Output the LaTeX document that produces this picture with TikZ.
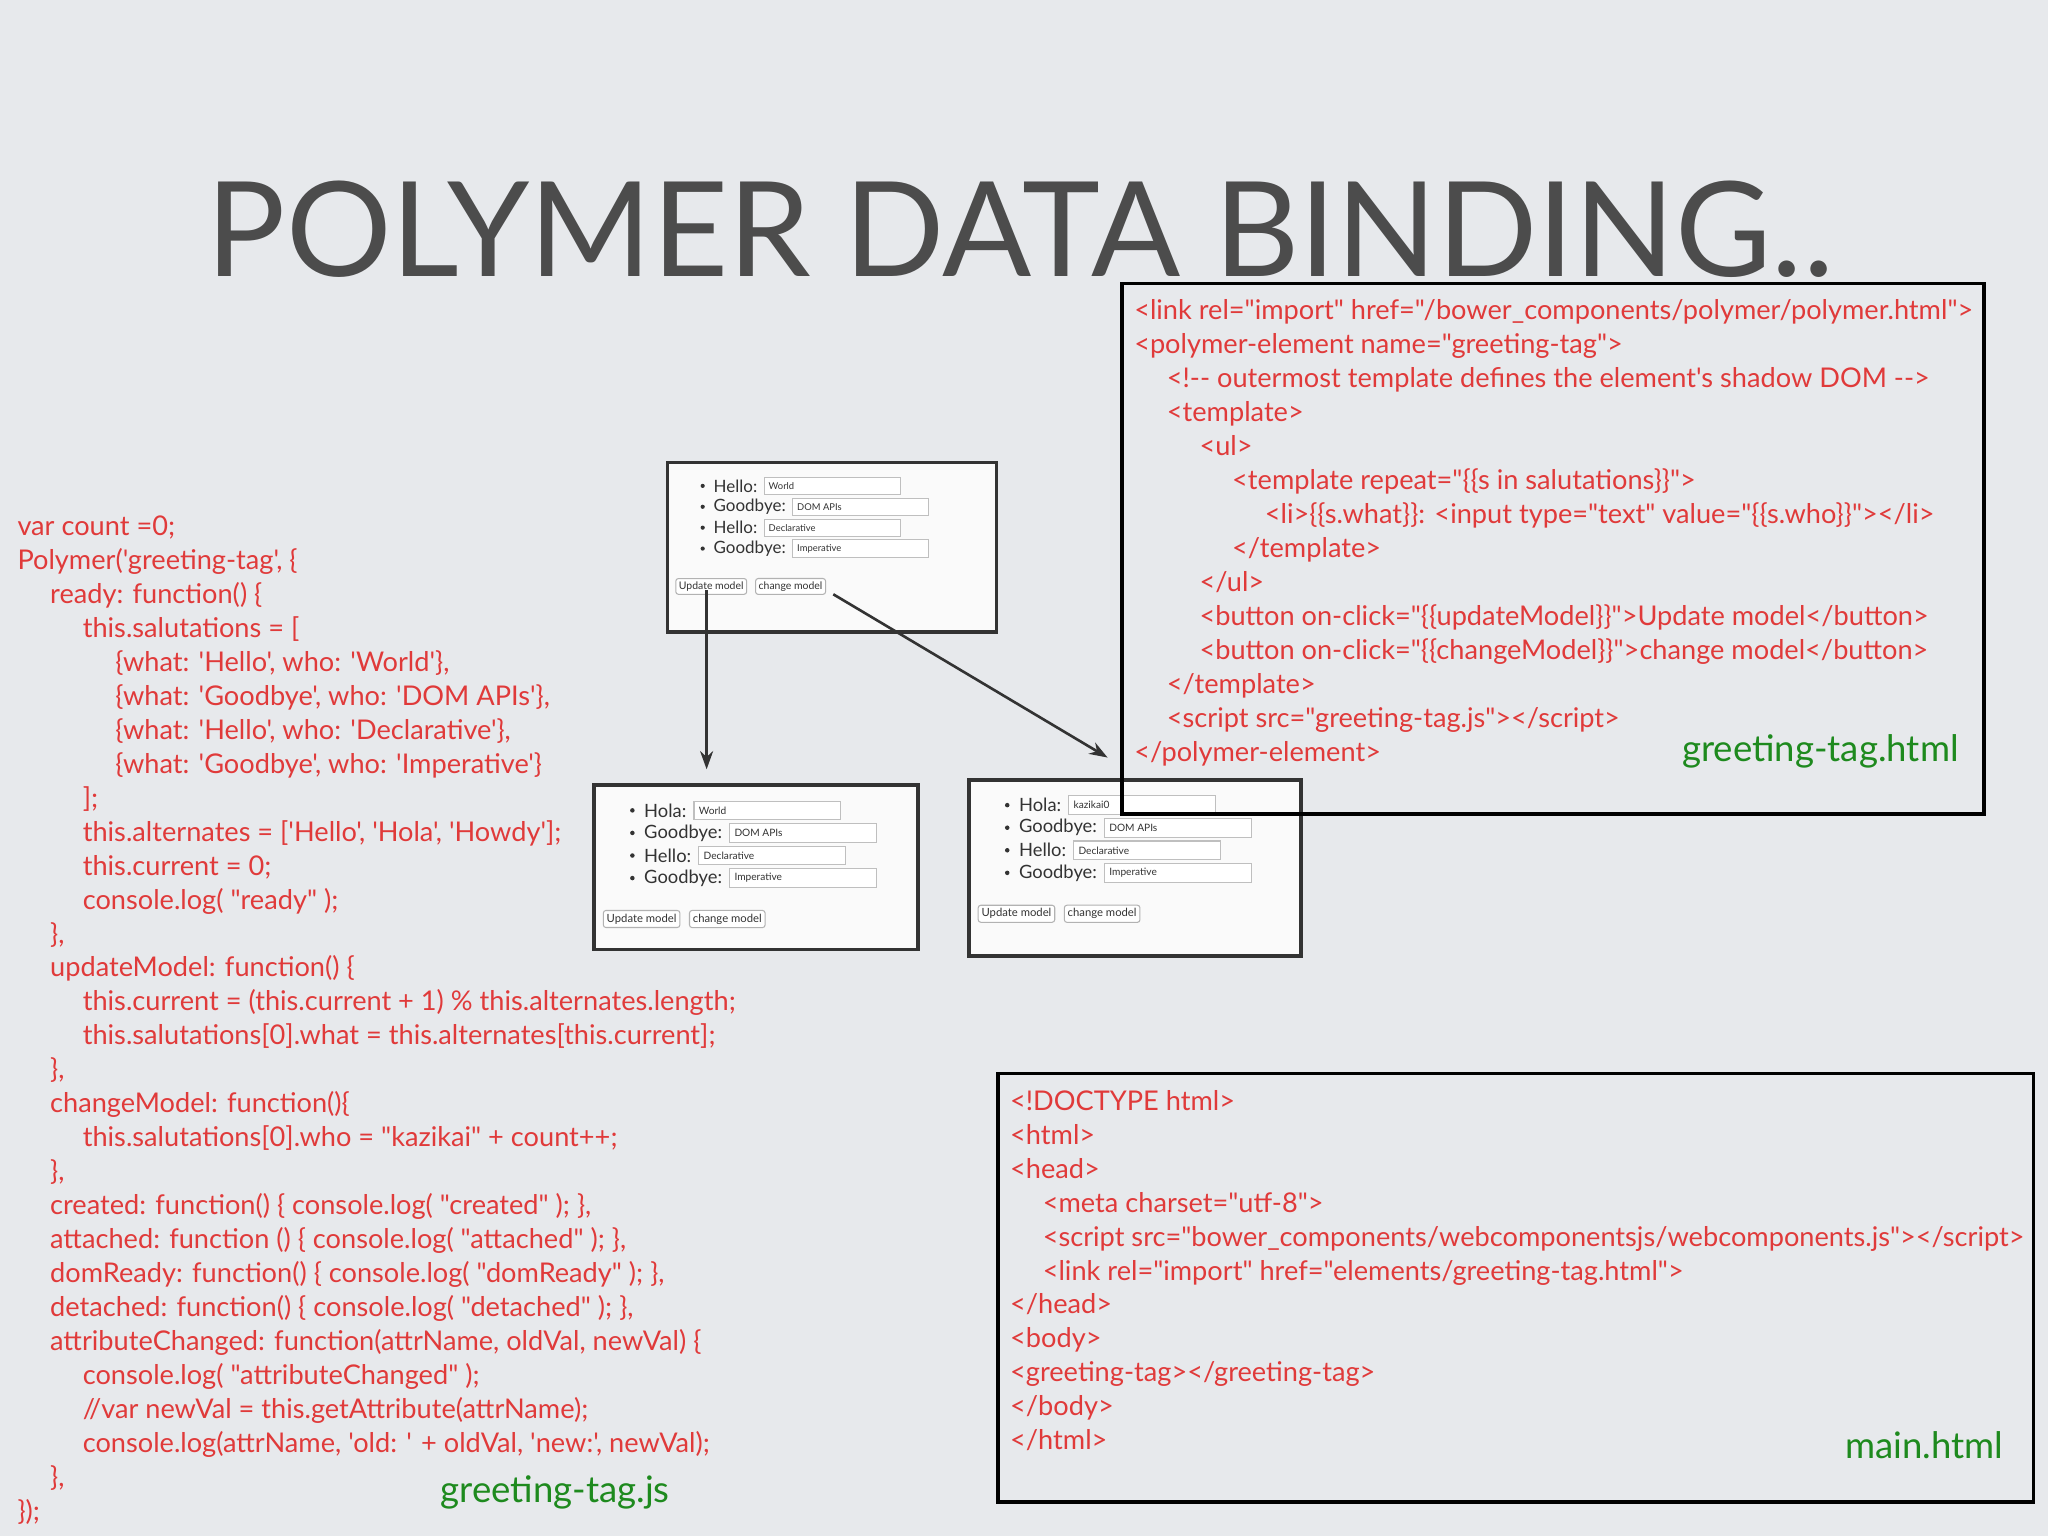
\documentclass[tikz,border=0pt]{standalone}
\usepackage{fontspec}
\newfontfamily\cf{Lato}
\usetikzlibrary{arrows.meta}
\definecolor{bg}{HTML}{E7E9EC}
\definecolor{cred}{HTML}{E03A3A}
\definecolor{cgreen}{HTML}{1E8A1E}
\definecolor{ink}{HTML}{333333}
\tikzset{
  code/.style={anchor=base west,inner sep=0pt,text=cred,font=\cf\fontsize{10.4}{12}\selectfont},
  fname/.style={anchor=base east,inner sep=0pt,text=cgreen,font=\cf\fontsize{14}{16}\selectfont},
  frame/.style={draw=black,line width=1.4pt},
  shotframe/.style={draw=ink,line width=1.4pt,fill=white!96!gray},
  lbl/.style={anchor=west,inner sep=0pt,text=ink,font=\cf\fontsize{6.5}{7}\selectfont},
  val/.style={anchor=west,inner sep=0pt,text=ink,font=\cf\fontsize{3.6}{4}\selectfont},
  btn/.style={draw=gray!60,rounded corners=1pt,fill=white,inner sep=1.2pt,text=ink,font=\cf\fontsize{4}{5}\selectfont},
  arr/.style={draw=ink,line width=1pt,-{Stealth[length=7pt,width=5pt]}}
}
\newcommand{\jl}[3]{\node[code] at (13+25*#1,410+26*#2) {#3};}
\newcommand{\hl}[3]{\node[code] at (868+25*#1,245+26*#2) {#3};}
\newcommand{\ml}[3]{\node[code] at (773+25*#1,850+26*#2) {#3};}
\newcommand{\shot}[7]{%
  \draw[shotframe] (#1,#2) rectangle ++(#3,#4);
  \begin{scope}[shift={(#1,#2)},scale=#5,transform shape]
    \foreach \i/\l/\v in {0/#6/#7,1/Goodbye:/DOM APIs,2/Hello:/Declarative,3/Goodbye:/Imperative}{
      \fill[ink] (27,18+16*\i) circle (1.6);
      \node[lbl] (sl) at (35,18+16*\i) {\l};
      \draw[gray!50,fill=white] ([xshift=2.5pt]sl.east) ++(0,3.3pt) rectangle ++(52pt,-6.6pt);
      \node[val] at ([xshift=4pt]sl.east) {\v};
    }
    \node[btn,anchor=west] (ub) at (6,95) {Update model};
    \node[btn,anchor=west] at ([xshift=3pt]ub.east) {change model};
  \end{scope}}
\begin{document}
\begin{tikzpicture}[x=0.5pt,y=-0.5pt]
\fill[bg] (0,0) rectangle (1568,1176);
\useasboundingbox (0,0) rectangle (1568,1176);
\node[anchor=base west,inner sep=0pt,text=black!70,font=\cf\fontsize{50.5}{60}\selectfont] (title) at (158,212) {POLYMER DATA BINDING..};

\jl{0}{0}{var count =0;}
\jl{0}{1}{Polymer('greeting-tag', \{}
\jl{1}{2}{ready: function() \{}
\jl{2}{3}{this.salutations = [}
\jl{3}{4}{\{what: 'Hello', who: 'World'\},}
\jl{3}{5}{\{what: 'Goodbye', who: 'DOM APIs'\},}
\jl{3}{6}{\{what: 'Hello', who: 'Declarative'\},}
\jl{3}{7}{\{what: 'Goodbye', who: 'Imperative'\}}
\jl{2}{8}{];}
\jl{2}{9}{this.alternates = ['Hello', 'Hola', 'Howdy'];}
\jl{2}{10}{this.current = 0;}
\jl{2}{11}{console.log( "ready" );}
\jl{1}{12}{\},}
\jl{1}{13}{updateModel: function() \{}
\jl{2}{14}{this.current = (this.current + 1) \% this.alternates.length;}
\jl{2}{15}{this.salutations[0].what = this.alternates[this.current];}
\jl{1}{16}{\},}
\jl{1}{17}{changeModel: function()\{}
\jl{2}{18}{this.salutations[0].who = "kazikai" + count++;}
\jl{1}{19}{\},}
\jl{1}{20}{created: function() \{ console.log( "created" ); \},}
\jl{1}{21}{attached: function () \{ console.log( "attached" ); \},}
\jl{1}{22}{domReady: function() \{ console.log( "domReady" ); \},}
\jl{1}{23}{detached: function() \{ console.log( "detached" ); \},}
\jl{1}{24}{attributeChanged: function(attrName, oldVal, newVal) \{}
\jl{2}{25}{console.log( "attributeChanged" );}
\jl{2}{26}{//var newVal = this.getAttribute(attrName);}
\jl{2}{27}{console.log(attrName, 'old: ' + oldVal, 'new:', newVal);}
\jl{1}{28}{\},}
\jl{0}{29}{\});}
\node[fname,anchor=base] (jsname) at (425,1150) {greeting-tag.js};

\shot{455}{601}{248}{126}{1.08}{Hola:}{World}
\shot{742}{597}{254}{135}{1.08}{Hola:}{kazikai0}

\draw[frame] (859,217) rectangle (1519,623);
\hl{0}{0}{<link rel="import" href="/bower\_components/polymer/polymer.html">}
\hl{0}{1}{<polymer-element name="greeting-tag">}
\hl{1}{2}{<!-{}- outermost template defines the element's shadow DOM -{}->}
\hl{1}{3}{<template>}
\hl{2}{4}{<ul>}
\hl{3}{5}{<template repeat="\{\{s in salutations\}\}">}
\hl{4}{6}{<li>\{\{s.what\}\}: <input type="text" value="\{\{s.who\}\}"></li>}
\hl{3}{7}{</template>}
\hl{2}{8}{</ul>}
\hl{2}{9}{<button on-click="\{\{updateModel\}\}">Update model</button>}
\hl{2}{10}{<button on-click="\{\{changeModel\}\}">change model</button>}
\hl{1}{11}{</template>}
\hl{1}{12}{<script src="greeting-tag.js"></script>}
\hl{0}{13}{</polymer-element>}
\node[fname] (htmlname) at (1500,583) {greeting-tag.html};

\shot{511}{354}{252}{130}{1}{Hello:}{World}

\draw[frame] (764,822) rectangle (1557,1150);
\ml{0}{0}{<!DOCTYPE html>}
\ml{0}{1}{<html>}
\ml{0}{2}{<head>}
\ml{1}{3}{<meta charset="utf-8">}
\ml{1}{4}{<script src="bower\_components/webcomponentsjs/webcomponents.js"></script>}
\ml{1}{5}{<link rel="import" href="elements/greeting-tag.html">}
\ml{0}{6}{</head>}
\ml{0}{7}{<body>}
\ml{0}{8}{<greeting-tag></greeting-tag>}
\ml{0}{9}{</body>}
\ml{0}{10}{</html>}
\node[fname] (mainname) at (1534,1117) {main.html};

\coordinate (a1s) at (541,452);
\coordinate (a1e) at (541,589);
\coordinate (a2s) at (638,455);
\coordinate (a2e) at (848,580);
\draw[arr] (a1s) -- (a1e);
\draw[arr] (a2s) -- (a2e);
\end{tikzpicture}
\end{document}
